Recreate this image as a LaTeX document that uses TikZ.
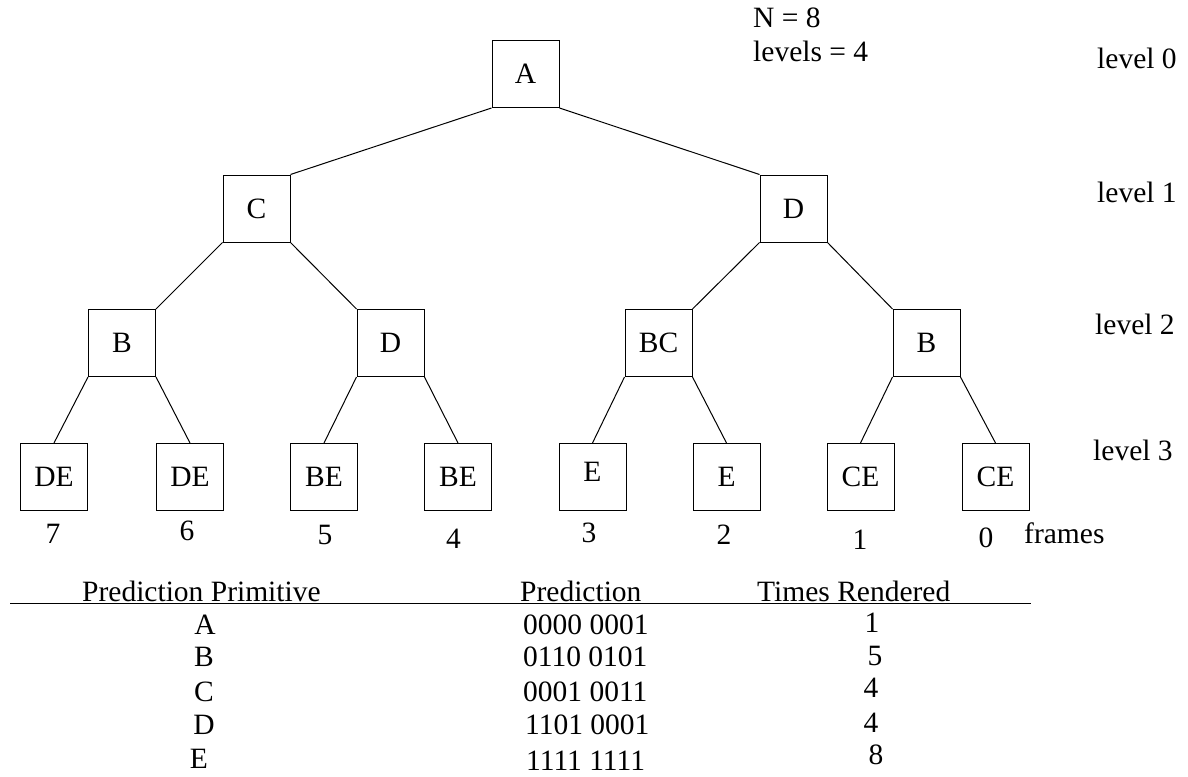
\documentclass[tikz,border=0pt]{standalone}
\usepackage{fontspec}
\setmainfont{Liberation Serif}
\begin{document}
\begin{tikzpicture}[x=1pt,y=-1pt,
  font=\fontsize{29.5}{35}\selectfont,
  box/.style={draw, line width=1pt, minimum width=67pt, minimum height=67pt, inner sep=0pt},
  edge/.style={line width=1pt},
  txt/.style={anchor=base west, inner sep=0pt},
  num/.style={anchor=base, inner sep=0pt}]
\useasboundingbox (0,0) rectangle (1188,776);

% tree nodes
\node[box] (a)  at (525.5,74)  {A};
\node[box] (c)  at (256.5,208.5) {C};
\node[box] (d)  at (793.5,208.5) {D};
\node[box] (b1) at (122,343)   {B};
\node[box] (d2) at (390.5,343) {D};
\node[box] (bc) at (658.5,343) {BC};
\node[box] (b2) at (926.5,343) {B};
\node[box] (l1) at (54,477)    {DE};
\node[box] (l2) at (190,477)   {DE};
\node[box] (l3) at (324,477)   {BE};
\node[box] (l4) at (458,477)   {BE};
\node[box] (l5) at (592.5,477) {};
\node[inner sep=0pt] (l5t) at ([yshift=5pt]l5.center) {E};
\node[box] (l6) at (726.5,477) {E};
\node[box] (l7) at (860.5,477) {CE};
\node[box] (l8) at (995.5,477) {CE};

% tree edges
\draw[edge] (a.south west) -- (c.north east);
\draw[edge] (a.south east) -- (d.north west);
\draw[edge] (c.south west) -- (b1.north east);
\draw[edge] (c.south east) -- (d2.north west);
\draw[edge] (d.south west) -- (bc.north east);
\draw[edge] (d.south east) -- (b2.north west);
\draw[edge] (b1.south west) -- (l1.north);
\draw[edge] (b1.south east) -- (l2.north);
\draw[edge] (d2.south west) -- (l3.north);
\draw[edge] (d2.south east) -- (l4.north);
\draw[edge] (bc.south west) -- (l5.north);
\draw[edge] (bc.south east) -- (l6.north);
\draw[edge] (b2.south west) -- (l7.north);
\draw[edge] (b2.south east) -- (l8.north);

% parameters
\node[txt] (nn) at (753,28) {N = 8};
\node[txt] (nl) at (753,62) {levels = 4};

% level labels
\node[txt] (lv0) at (1097,69)  {level 0};
\node[txt] (lv1) at (1097,202) {level 1};
\node[txt] (lv2) at (1095,334) {level 2};
\node[txt] (lv3) at (1093,460) {level 3};

% frame numbers
\node[num] (f7) at (53,543)    {7};
\node[num] (f6) at (187,540)   {6};
\node[num] (f5) at (325,544)   {5};
\node[num] (f4) at (453.5,548) {4};
\node[num] (f3) at (589,542)   {3};
\node[num] (f2) at (724,544)   {2};
\node[num] (f1) at (860,549)   {1};
\node[num] (f0) at (986,547)   {0};
\node[txt] (fr) at (1024,543)  {frames};

% table
\node[txt] (h1) at (82,601)  {Prediction Primitive};
\node[txt] (h2) at (520,601) {Prediction};
\node[txt] (h3) at (757,601) {Times Rendered};
\coordinate (rl) at (10,603.5);
\coordinate (rr) at (1031,603.5);
\draw[edge] (rl) -- (rr);

\node[num] (pa) at (205,634) {A};
\node[num] (pb) at (204,666) {B};
\node[num] (pc) at (204,701) {C};
\node[num] (pd) at (204,734) {D};
\node[num] (pe) at (199,768) {E};

\node[txt] (ca) at (523,634) {0000 0001};
\node[txt] (cb) at (523,666) {0110 0101};
\node[txt] (cc) at (523,701) {0001 0011};
\node[txt] (cd) at (525,734) {1101 0001};
\node[txt] (ce) at (526,770) {1111 1111};

\node[num] (ta) at (872,632) {1};
\node[num] (tb) at (875,665) {5};
\node[num] (tc) at (871,697) {4};
\node[num] (td) at (871,732) {4};
\node[num] (te) at (876,764) {8};
\end{tikzpicture}
\end{document}
